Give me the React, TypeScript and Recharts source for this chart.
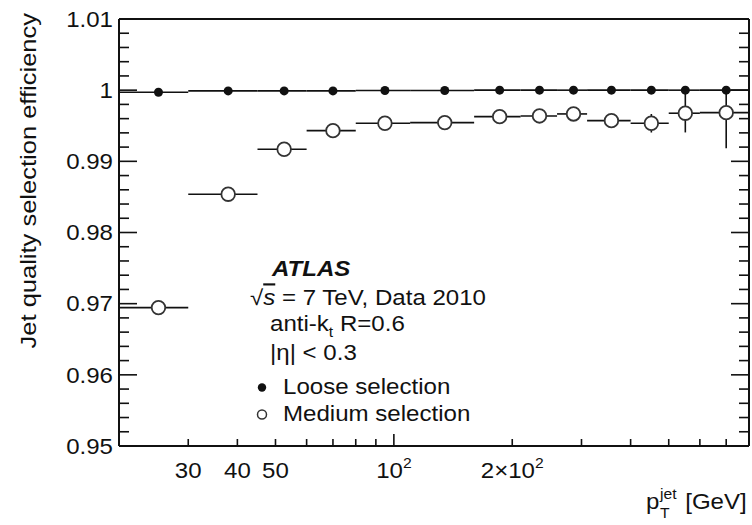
import { ScatterChart, Scatter, XAxis, YAxis, ErrorBar, Legend, Customized } from 'recharts'

// pT bins [GeV] and the point positions inside each bin
const binLo = [20, 30, 45, 60, 80, 110, 160, 210, 260, 310, 400, 500, 600]
const binHi = [30, 45, 60, 80, 110, 160, 210, 260, 310, 400, 500, 600, 800]
const ptCenter = [25.2, 37.9, 52.6, 70.0, 94.9, 134.7, 185.8, 234.6, 286.3, 357.5, 451.6, 551, 700]

const looseEff = [0.9997, 0.9999, 0.9999, 0.9999, 0.99995, 0.99995, 1.0, 1.0, 1.0, 1.0, 1.0, 1.0, 1.0]
const mediumEff = [0.96945, 0.98538, 0.9917, 0.99431, 0.99535, 0.99544, 0.99628, 0.99638, 0.99666, 0.99572, 0.99535, 0.99676, 0.99684]
const mediumErrLo = [0.0002, 0.0002, 0.0002, 0.0002, 0.0002, 0.0002, 0.0002, 0.0003, 0.0003, 0.0005, 0.0013, 0.0027, 0.005]
const mediumErrHi = [0.0002, 0.0002, 0.0002, 0.0002, 0.0002, 0.0002, 0.0002, 0.0003, 0.0003, 0.0005, 0.0013, 0.0027, 0.0032]

const xTicks = [30, 40, 50, 60, 70, 80, 90, 100, 200, 300, 400, 500, 600, 700]
const xLabelValues = [30, 40, 50, 100, 200]
const xLabelBase = ['30', '40', '50', '10', '2×10']
const xLabelSup = ['', '', '', '2', '2']

const yTicks = [
  0.95, 0.952, 0.954, 0.956, 0.958, 0.96, 0.962, 0.964, 0.966, 0.968, 0.97,
  0.972, 0.974, 0.976, 0.978, 0.98, 0.982, 0.984, 0.986, 0.988, 0.99,
  0.992, 0.994, 0.996, 0.998, 1.0, 1.002, 1.004, 1.006, 1.008, 1.01,
]

const FONT = '"Liberation Sans", Arial, Helvetica, sans-serif'
const SX = 1.12
const INK = '#111'

const loosePts = ptCenter.map((x, i) => ({ x, y: looseEff[i], xe: [x - binLo[i], binHi[i] - x] }))
const mediumPts = ptCenter.map((x, i) => ({
  x,
  y: mediumEff[i],
  xe: [x - binLo[i], binHi[i] - x],
  ye: [mediumErrLo[i], mediumErrHi[i]],
}))

const isMajorY = (v: number) => Math.abs(v * 100 - Math.round(v * 100)) < 1e-6

function Wide({ x, y, anchor = 'start', size = 21.5, children, weight, italic }: any) {
  return (
    <g transform={`translate(${x},${y}) scale(${SX},1)`}>
      <text x={0} y={0} textAnchor={anchor} fontFamily={FONT} fontSize={size} fill={INK}
        fontWeight={weight} fontStyle={italic ? 'italic' : undefined}>
        {children}
      </text>
    </g>
  )
}

function BottomTick({ x, y, payload }: any) {
  const v = payload.value
  const k = xLabelValues.indexOf(v)
  return (
    <g>
      <line x1={x} x2={x} y1={y} y2={y - (v === 100 ? 12 : 7)} stroke={INK} strokeWidth={1.6} />
      {k >= 0 && (
        <Wide x={x} y={y + 32} anchor="middle">
          {xLabelBase[k]}
          {xLabelSup[k] && <tspan dy={-10} fontSize={14}>{xLabelSup[k]}</tspan>}
        </Wide>
      )}
    </g>
  )
}

function TopTick({ x, y, payload }: any) {
  return <line x1={x} x2={x} y1={y} y2={y + (payload.value === 100 ? 12 : 7)} stroke={INK} strokeWidth={1.6} />
}

function LeftTick({ x, y, payload }: any) {
  const v = payload.value
  const major = isMajorY(v)
  return (
    <g>
      <line x1={x} x2={x + (major ? 18 : 10)} y1={y} y2={y} stroke={INK} strokeWidth={1.6} />
      {major && (
        <Wide x={x - 6} y={y + 7.7} anchor="end">
          {Math.abs(v - 1) < 1e-9 ? '1' : v.toFixed(2)}
        </Wide>
      )}
    </g>
  )
}

function RightTick({ x, y, payload }: any) {
  const major = isMajorY(payload.value)
  return <line x1={x} x2={x - (major ? 18 : 10)} y1={y} y2={y} stroke={INK} strokeWidth={1.6} />
}

function YTitle({ viewBox }: any) {
  return (
    <g transform={`translate(${viewBox.x + 36},${viewBox.y - 6}) rotate(-90) scale(1.17,1)`}>
      <text textAnchor="end" fontFamily={FONT} fontSize={21.8} fill={INK}>Jet quality selection efficiency</text>
    </g>
  )
}

function XTitle({ viewBox }: any) {
  return (
    <g transform={`translate(${viewBox.x + viewBox.width - 103},${viewBox.y + 63}) scale(${SX},1)`}>
      <text fontFamily={FONT} fill={INK}>
        <tspan x={0} y={0} fontSize={21.5}>p</tspan>
        <tspan x={12.5} y={9} fontSize={14}>T</tspan>
        <tspan x={12.5} y={-10} fontSize={14}>jet</tspan>
        <tspan x={35} y={0} fontSize={21.5}>[GeV]</tspan>
      </text>
    </g>
  )
}

function Annotations() {
  return (
    <g>
      <Wide x={272} y={276} weight="bold" italic size={21.5}>ATLAS</Wide>
      <Wide x={250} y={305}>
        √<tspan fontStyle="italic" style={{ textDecoration: 'overline' }}>s</tspan> = 7 TeV, Data 2010
      </Wide>
      <Wide x={270} y={331}>
        anti-k<tspan dy={6} fontSize={14}>t</tspan><tspan dy={-6}> R=0.6</tspan>
      </Wide>
      <Wide x={270} y={360}>|η| &lt; 0.3</Wide>
    </g>
  )
}

function LegendBox({ payload }: any) {
  return (
    <div style={{ fontFamily: FONT, fontSize: 21.5, color: INK, lineHeight: '27px' }}>
      {(payload || []).map((p: any) => (
        <div key={p.value} style={{ display: 'flex', alignItems: 'center', height: 27, whiteSpace: 'nowrap' }}>
          <svg width={20} height={27}>
            {p.value === 'Loose selection'
              ? <circle cx={10} cy={13.5} r={4.2} fill={INK} />
              : <circle cx={10} cy={13.5} r={4.5} fill="#fff" stroke="#333" strokeWidth={1.5} />}
          </svg>
          <span style={{ marginLeft: 11, display: 'inline-block', transform: `scaleX(${SX})`, transformOrigin: 'left center' }}>
            {p.value}
          </span>
        </div>
      ))}
    </div>
  )
}

const axisLine = { stroke: INK, strokeWidth: 2 }

export default function App() {
  return (
    <div style={{ position: 'absolute', left: 0, top: 0, width: 752, height: 525, background: '#fff' }}>
      <ScatterChart width={752} height={525} margin={{ top: 18, right: 2, bottom: 29, left: 0 }}>
        <XAxis xAxisId="b" dataKey="x" type="number" scale="log" domain={[20, 800]} allowDataOverflow
          ticks={xTicks} interval={0} height={50} tickSize={0} tickMargin={0} tickLine={false}
          axisLine={axisLine} tick={BottomTick} label={{ content: XTitle }} />
        <XAxis xAxisId="t" orientation="top" type="number" scale="log" domain={[20, 800]} allowDataOverflow
          ticks={xTicks} interval={0} height={1} tickSize={0} tickMargin={0} tickLine={false}
          axisLine={axisLine} tick={TopTick} />
        <YAxis yAxisId="l" dataKey="y" type="number" domain={[0.95, 1.01]} allowDataOverflow
          ticks={yTicks} interval={0} width={119} tickSize={0} tickMargin={0} tickLine={false}
          axisLine={axisLine} tick={LeftTick} label={{ content: YTitle }} />
        <YAxis yAxisId="r" orientation="right" type="number" domain={[0.95, 1.01]} allowDataOverflow
          ticks={yTicks} interval={0} width={1} tickSize={0} tickMargin={0} tickLine={false}
          axisLine={axisLine} tick={RightTick} />
        <Scatter name="Loose selection" data={loosePts} xAxisId="b" yAxisId="l" fill={INK} isAnimationActive={false}
          shape={(p: any) => <circle cx={p.cx} cy={p.cy} r={4.5} fill={INK} />}>
          <ErrorBar dataKey="xe" direction="x" width={0} stroke={INK} strokeWidth={1.6} />
        </Scatter>
        <Scatter name="Medium selection" data={mediumPts} xAxisId="b" yAxisId="l" fill="#fff" isAnimationActive={false}
          shape={(p: any) => <circle cx={p.cx} cy={p.cy} r={6.8} fill="#fff" stroke="#333" strokeWidth={1.8} />}>
          <ErrorBar dataKey="xe" direction="x" width={0} stroke={INK} strokeWidth={1.6} />
          <ErrorBar dataKey="ye" direction="y" width={0} stroke={INK} strokeWidth={1.6} />
        </Scatter>
        <Customized component={Annotations} />
        <Legend layout="vertical" align="center" verticalAlign="middle" content={LegendBox}
          wrapperStyle={{ left: 252, top: 374, width: 300 }} />
      </ScatterChart>
    </div>
  )
}
